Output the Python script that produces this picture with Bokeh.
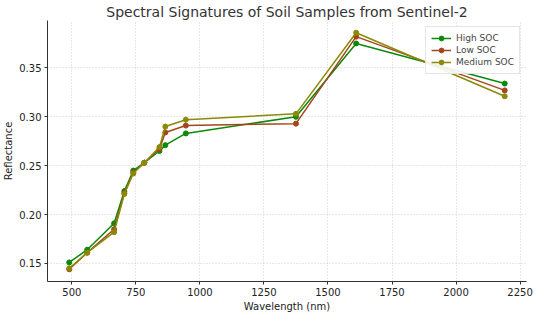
from bokeh.plotting import figure
from bokeh.embed import file_html
from bokeh.resources import INLINE
from bokeh.models import FixedTicker, NumeralTickFormatter, Range1d

wavelengths = [490, 560, 665, 705, 740, 783, 842, 865, 945, 1375, 1610, 2190]
high_soc = [0.151, 0.164, 0.191, 0.224, 0.245, 0.253, 0.265, 0.271, 0.283, 0.300, 0.375, 0.334]
low_soc = [0.144, 0.161, 0.185, 0.222, 0.243, 0.253, 0.267, 0.284, 0.291, 0.293, 0.382, 0.327]
medium_soc = [0.145, 0.161, 0.182, 0.221, 0.242, 0.253, 0.269, 0.290, 0.297, 0.303, 0.386, 0.321]
series_names = ["High SOC", "Low SOC", "Medium SOC"]
series_colors = ["#0a8a0a", "#a4461c", "#8a8a06"]
x_ticks = [500, 750, 1000, 1250, 1500, 1750, 2000, 2250]
y_ticks = [0.15, 0.20, 0.25, 0.30, 0.35]

FONT = "DejaVu Sans"

p = figure(width=534, height=314, output_backend="svg", toolbar_location=None,
           title="Spectral Signatures of Soil Samples from Sentinel-2",
           x_range=Range1d(405, 2275), y_range=Range1d(0.1315, 0.3985),
           x_axis_label="Wavelength (nm)", y_axis_label="Reflectance",
           min_border_left=2, min_border_right=8, min_border_top=2, min_border_bottom=2)

p.title.align = "center"
p.title.text_font = FONT
p.title.text_font_size = "14px"
p.title.text_font_style = "normal"
p.title.text_color = "#333333"
p.title.standoff = 2

for s_vals, name, col in zip([high_soc, low_soc, medium_soc], series_names, series_colors):
    p.line(wavelengths, s_vals, line_color=col, line_width=1.5, legend_label=name)
    p.scatter(wavelengths, s_vals, size=5, fill_color=col, line_color=col, legend_label=name)

p.xaxis.ticker = FixedTicker(ticks=x_ticks)
p.yaxis.ticker = FixedTicker(ticks=y_ticks)
p.yaxis.formatter = NumeralTickFormatter(format="0.00")

for ax in [p.xaxis[0], p.yaxis[0]]:
    ax.axis_label_text_font = FONT
    ax.axis_label_text_font_size = "10px"
    ax.axis_label_text_font_style = "normal"
    ax.axis_label_text_color = "#222222"
    ax.major_label_text_font = FONT
    ax.major_label_text_font_size = "10px"
    ax.major_label_text_color = "#222222"
    ax.axis_line_color = "#333333"
    ax.major_tick_line_color = "#333333"
    ax.major_tick_out = 3
    ax.major_tick_in = 0
    ax.minor_tick_line_color = None
    ax.axis_label_standoff = 2
    ax.major_label_standoff = 3

p.xgrid.grid_line_color = "#d0d0d0"
p.ygrid.grid_line_color = "#d0d0d0"
p.xgrid.grid_line_dash = "1 2"
p.ygrid.grid_line_dash = "1 2"
p.outline_line_color = None

p.legend.location = "top_right"
p.legend.label_text_font = FONT
p.legend.label_text_font_size = "9px"
p.legend.label_height = 12
p.legend.glyph_height = 12
p.legend.glyph_width = 20
p.legend.spacing = 0
p.legend.padding = 5
p.legend.margin = 6
p.legend.border_line_color = "#cccccc"
p.legend.background_fill_alpha = 0.9

open("out.html", "w").write(file_html(p, INLINE))
